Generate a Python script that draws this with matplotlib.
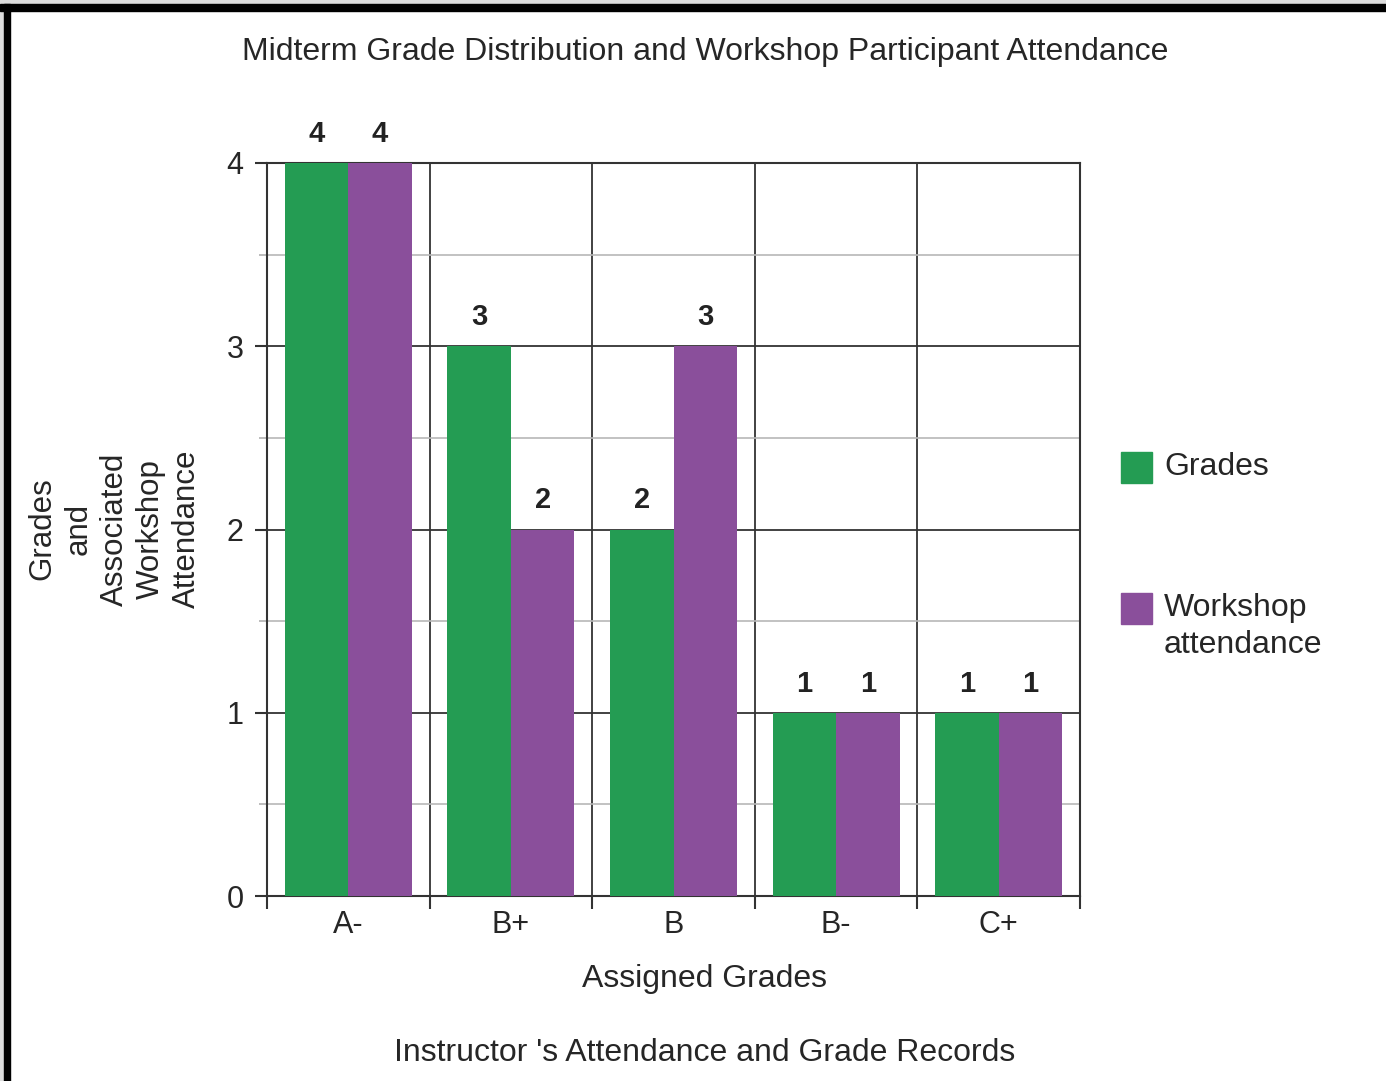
import numpy as np
import matplotlib
matplotlib.use('Agg')
import matplotlib.pyplot as plt
from matplotlib.patches import Rectangle

# data
grades = ['A-', 'B+', 'B', 'B-', 'C+']
grade_counts = [4, 3, 2, 1, 1]
workshop_counts = [4, 2, 3, 1, 1]
series_names = ['Grades', 'Workshop\nattendance']
colors = ['#249c53', '#8a4f9b']

plt.rcParams['font.family'] = ['Liberation Sans', 'DejaVu Sans']
dark = '#333333'
txt = '#262626'
W, H = 1386, 1081

fig = plt.figure(figsize=(W/100, H/100), dpi=100)
ax = fig.add_axes([267/W, 1-896/H, 813/W, 733/H])

x = np.arange(len(grades))
w = 0.39
b1 = ax.bar(x - w/2, grade_counts, w, color=colors[0], label=series_names[0], zorder=3)
b2 = ax.bar(x + w/2, workshop_counts, w, color=colors[1], label=series_names[1], zorder=3)

# value labels above bars
for bars in (b1, b2):
    for r in bars:
        ax.annotate('%d' % r.get_height(), (r.get_x() + r.get_width()/2, r.get_height()),
                    xytext=(0, 21), textcoords='offset points', ha='center', va='center',
                    fontsize=21, fontweight='bold', color='#222222', annotation_clip=False)

ax.set_xlim(-0.5, len(grades) - 0.5)
ax.set_ylim(0, 4)

# y axis ticks / grid
ax.set_yticks([0, 1, 2, 3, 4])
ax.set_yticks([0.5, 1.5, 2.5, 3.5], minor=True)
ax.tick_params(axis='y', which='major', direction='out', length=9, width=1.5, color=dark,
               labelsize=22, labelcolor=txt, pad=8)
ax.tick_params(axis='y', which='minor', direction='out', length=6, width=1.2, color='#b0b0b0')
ax.yaxis.grid(True, which='major', color=dark, linewidth=1.3, zorder=0)
ax.yaxis.grid(True, which='minor', color='#b8b8b8', linewidth=1.2, zorder=0)

# x axis: ticks at the boundaries, labels at the centres
ax.set_xticks(np.arange(len(grades) + 1) - 0.5)
ax.set_xticklabels([])
ax.set_xticks(x, minor=True)
ax.set_xticklabels(grades, minor=True)
ax.tick_params(axis='x', which='major', direction='out', length=9, width=1.5, color=dark)
ax.tick_params(axis='x', which='minor', length=0, labelsize=22, labelcolor=txt, pad=10)
ax.xaxis.grid(True, which='major', color=dark, linewidth=1.3, zorder=0)
ax.set_axisbelow(True)

for s in ax.spines.values():
    s.set_color(dark)
    s.set_linewidth(1.5)

# texts
fig.text(115/W, 1-529/H, 'Grades\nand\nAssociated\nWorkshop\nAttendance', rotation=90,
         ha='center', va='center', multialignment='center', fontsize=22.5, color=txt,
         linespacing=1.27)
fig.text(705/W, 1-52/H, 'Midterm Grade Distribution and Workshop Participant Attendance',
         ha='center', va='center', fontsize=23, color=txt)
fig.text(705/W, 1-979/H, 'Assigned Grades', ha='center', va='center',
         fontsize=23, color=txt)
fig.text(705/W, 1-1053/H, "Instructor 's Attendance and Grade Records", ha='center',
         va='center', fontsize=23, color=txt)

# legend, drawn by hand to the right of the axes
leg_y = [467, 608]
for c, name, yy in zip(colors, series_names, leg_y):
    fig.patches.append(Rectangle((1121/W, 1-(yy+15.5)/H), 31/W, 31/H,
                                 transform=fig.transFigure, color=c))
    fig.text(1164/W, 1-yy/H, name.split('\n')[0], ha='left', va='center',
             fontsize=23, color=txt)
    for k, extra in enumerate(name.split('\n')[1:]):
        fig.text(1164/W, 1-(yy + 37*(k+1))/H, extra, ha='left', va='center',
                 fontsize=23, color=txt)

# frame around the picture
fig.patches.append(Rectangle((0, 1-4/H), 1, 4/H, transform=fig.transFigure,
                             color='#dcdcdc', zorder=10))
fig.patches.append(Rectangle((0, 0), 4/W, 1, transform=fig.transFigure,
                             color='#dcdcdc', zorder=10))
fig.patches.append(Rectangle((0, 1-11/H), 1, 7/H, transform=fig.transFigure,
                             color='black', zorder=11))
fig.patches.append(Rectangle((4/W, 0), 6/W, 1-4/H, transform=fig.transFigure,
                             color='black', zorder=11))

fig.savefig('out.png', dpi=100)
